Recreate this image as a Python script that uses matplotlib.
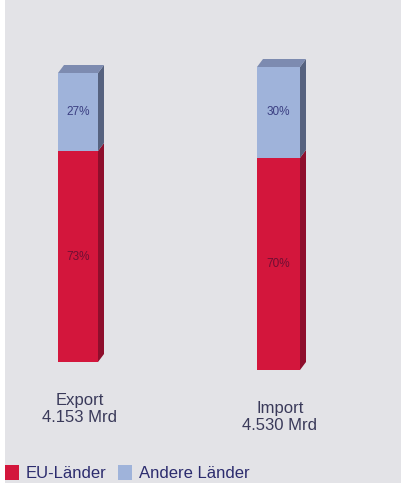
import matplotlib.pyplot as plt
from matplotlib.patches import Polygon, Patch, Rectangle

plt.rcParams['font.family'] = ['Liberation Sans', 'DejaVu Sans']

# data
categories = ['Export', 'Import']
totals = ['4.153 Mrd', '4.530 Mrd']
eu_share = [73, 70]
other_share = [27, 30]
series_names = ['EU-Länder', 'Andere Länder']

# colours
bg = '#e3e3e7'
red = '#d3163c'
red_side = '#8e0e2c'
blue = '#9fb3da'
blue_side = '#56627f'
top_col = '#7d8bb0'

W, H = 402, 483
fig = plt.figure(figsize=(W / 100, H / 100), dpi=100)
fig.patch.set_facecolor(bg)
fig.patches.append(Rectangle((0, 0), 5 / W, 1, transform=fig.transFigure,
                             facecolor='white', edgecolor='none', zorder=0))

# front face of each bar in pixels: left, top, right, bottom
boxes = [(58, 73, 98, 362), (257, 67, 300, 370)]
label_pos = [(80, 393), (280, 401)]
depth = (6, 8)  # 3d offset in px

for i, cat in enumerate(categories):
    x0, y0, x1, y1 = boxes[i]
    ax = fig.add_axes([x0 / W, 1 - y1 / H, (x1 - x0) / W, (y1 - y0) / H])
    ax.set_xlim(0, 1)
    ax.set_ylim(0, 100)
    ax.axis('off')
    eu = eu_share[i]
    oth = other_share[i]
    ax.bar(0.5, eu, width=1, color=red, linewidth=0)
    ax.bar(0.5, oth, bottom=eu, width=1, color=blue, linewidth=0)
    dx = depth[0] / (x1 - x0)
    dy = depth[1] / (y1 - y0) * 100
    top = eu + oth
    for verts, c in [
        ([(1, 0), (1 + dx, dy), (1 + dx, eu + dy), (1, eu)], red_side),
        ([(1, eu), (1 + dx, eu + dy), (1 + dx, top + dy), (1, top)], blue_side),
        ([(0, top), (dx, top + dy), (1 + dx, top + dy), (1, top)], top_col),
    ]:
        ax.add_patch(Polygon(verts, closed=True, facecolor=c, edgecolor='none',
                             clip_on=False))
    ax.text(0.5, eu + oth / 2, f'{oth}%', ha='center', va='center',
            fontsize=8.5, color='#3b3f82')
    ax.text(0.5, eu / 2, f'{eu}%', ha='center', va='center',
            fontsize=8.5, color='#6e0f33')
    lx, ly = label_pos[i]
    fig.text(lx / W, 1 - ly / H, f'{cat}\n{totals[i]}', ha='center', va='top',
             fontsize=12, color='#3a3a5a', linespacing=1.15)

handles = [Patch(facecolor=red, edgecolor='none'),
           Patch(facecolor=blue, edgecolor='none')]
fig.legend(handles, series_names, loc='center left',
           bbox_to_anchor=(5 / W, 1 - 473 / H), ncol=2, frameon=False,
           fontsize=12, handlelength=0.85, handleheight=1.0,
           handletextpad=0.4, columnspacing=0.7, borderaxespad=0,
           borderpad=0, labelcolor='#2c2c6e')

fig.savefig('out.png', dpi=100, facecolor=bg)
